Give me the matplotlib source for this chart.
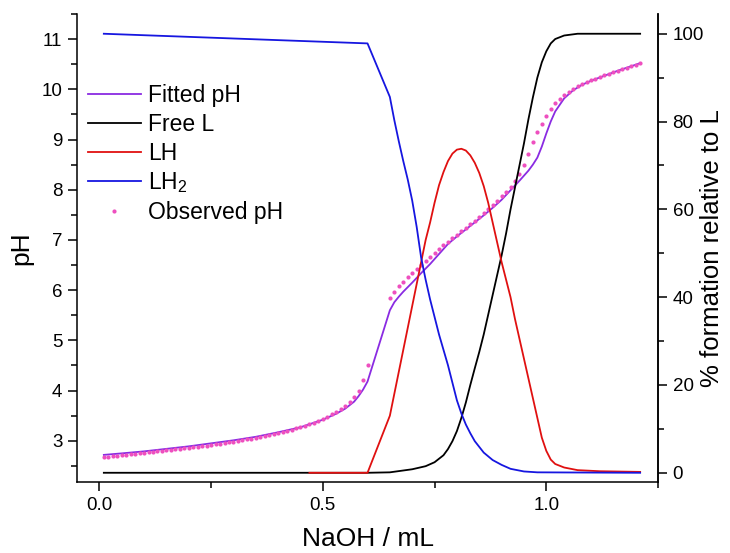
import matplotlib
matplotlib.use("Agg")
import matplotlib.pyplot as plt
from matplotlib.ticker import MultipleLocator
from matplotlib.lines import Line2D

plt.rcParams['font.family'] = ['Liberation Sans', 'DejaVu Sans']
plt.rcParams['mathtext.fontset'] = 'custom'
plt.rcParams['mathtext.rm'] = 'Liberation Sans'
plt.rcParams['mathtext.it'] = 'Liberation Sans:italic'

# ---- titration data (NaOH added, mL) ----
obs_vol = [0.01, 0.02, 0.03, 0.04, 0.05, 0.06, 0.07, 0.08, 0.09, 0.10,
           0.11, 0.12, 0.13, 0.14, 0.15, 0.16, 0.17, 0.18, 0.19, 0.20,
           0.21, 0.22, 0.23, 0.24, 0.25, 0.26, 0.27, 0.28, 0.29, 0.30,
           0.31, 0.32, 0.33, 0.34, 0.35, 0.36, 0.37, 0.38, 0.39, 0.40,
           0.41, 0.42, 0.43, 0.44, 0.45, 0.46, 0.47, 0.48, 0.49, 0.50,
           0.51, 0.52, 0.53, 0.54, 0.55, 0.56, 0.57, 0.58, 0.59, 0.60,
           0.65, 0.66, 0.67, 0.68, 0.69, 0.70, 0.71, 0.72, 0.73, 0.74,
           0.75, 0.76, 0.77, 0.78, 0.79, 0.80, 0.81, 0.82, 0.83, 0.84,
           0.85, 0.86, 0.87, 0.88, 0.89, 0.90, 0.91, 0.92, 0.93, 0.94,
           0.95, 0.96, 0.97, 0.98, 0.99, 1.00, 1.01, 1.02, 1.03, 1.04,
           1.05, 1.06, 1.07, 1.08, 1.09, 1.10, 1.11, 1.12, 1.13, 1.14,
           1.15, 1.16, 1.17, 1.18, 1.19, 1.20, 1.21]
obs_ph = [2.67, 2.68, 2.69, 2.70, 2.71, 2.72, 2.73, 2.74, 2.75, 2.76,
          2.77, 2.78, 2.79, 2.80, 2.81, 2.82, 2.83, 2.84, 2.85, 2.86,
          2.87, 2.88, 2.89, 2.90, 2.92, 2.93, 2.94, 2.95, 2.97, 2.98,
          3.00, 3.01, 3.03, 3.04, 3.06, 3.08, 3.10, 3.12, 3.14, 3.16,
          3.18, 3.20, 3.22, 3.25, 3.27, 3.30, 3.33, 3.36, 3.40, 3.44,
          3.48, 3.53, 3.58, 3.64, 3.70, 3.78, 3.87, 4.00, 4.21, 4.51,
          5.85, 5.97, 6.08, 6.17, 6.26, 6.34, 6.43, 6.51, 6.59, 6.66,
          6.74, 6.82, 6.89, 6.96, 7.03, 7.10, 7.17, 7.24, 7.31, 7.38,
          7.45, 7.53, 7.61, 7.69, 7.78, 7.87, 7.96, 8.06, 8.18, 8.32,
          8.50, 8.72, 8.95, 9.14, 9.30, 9.46, 9.60, 9.72, 9.81, 9.89,
          9.95, 10.01, 10.06, 10.10, 10.14, 10.18, 10.21, 10.25, 10.28, 10.31,
          10.34, 10.37, 10.40, 10.43, 10.46, 10.49, 10.52]

fit_vol = [0.01, 0.05, 0.10, 0.15, 0.20, 0.25, 0.30, 0.35, 0.40, 0.45,
           0.50, 0.53, 0.55, 0.57, 0.58, 0.59, 0.60, 0.65, 0.66, 0.67,
           0.68, 0.70, 0.72, 0.74, 0.76, 0.78, 0.80, 0.82, 0.84, 0.86,
           0.88, 0.90, 0.92, 0.94, 0.96, 0.97, 0.98, 0.99, 1.00, 1.01,
           1.02, 1.04, 1.06, 1.08, 1.10, 1.13, 1.16, 1.19, 1.21]
fit_ph = [2.72, 2.75, 2.79, 2.84, 2.89, 2.95, 3.01, 3.08, 3.17, 3.27,
          3.42, 3.54, 3.64, 3.78, 3.89, 4.02, 4.18, 5.60, 5.76, 5.87,
          5.97, 6.15, 6.34, 6.52, 6.72, 6.92, 7.07, 7.21, 7.35, 7.49,
          7.64, 7.80, 7.99, 8.18, 8.38, 8.50, 8.64, 8.86, 9.12, 9.36,
          9.56, 9.82, 9.98, 10.09, 10.17, 10.27, 10.37, 10.46, 10.52]

# ---- species distribution (% relative to total L) ----
l_vol = [0.01, 0.60, 0.65, 0.70, 0.73, 0.75, 0.77, 0.78, 0.79, 0.80,
         0.81, 0.82, 0.83, 0.84, 0.85, 0.86, 0.87, 0.88, 0.89, 0.90,
         0.91, 0.92, 0.93, 0.94, 0.95, 0.96, 0.97, 0.98, 0.99, 1.00,
         1.01, 1.02, 1.04, 1.07, 1.21]
l_pct = [0.0, 0.0, 0.1, 0.8, 1.5, 2.4, 4.0, 5.4, 7.2, 9.5,
         12.5, 16.0, 20.0, 23.8, 27.5, 31.5, 36.0, 40.5, 45.0, 49.5,
         54.5, 60.0, 65.0, 70.0, 75.0, 80.5, 85.5, 90.0, 93.5, 96.0,
         97.8, 98.8, 99.6, 100.0, 100.0]

lh_vol = [0.47, 0.60, 0.65, 0.66, 0.67, 0.68, 0.69, 0.70, 0.71, 0.72,
          0.73, 0.74, 0.75, 0.76, 0.77, 0.78, 0.79, 0.80, 0.81, 0.82,
          0.83, 0.84, 0.85, 0.86, 0.87, 0.88, 0.89, 0.90, 0.91, 0.92,
          0.93, 0.94, 0.95, 0.96, 0.97, 0.98, 0.99, 1.00, 1.01, 1.02,
          1.04, 1.07, 1.12, 1.21]
lh_pct = [0.0, 0.0, 13.0, 18.0, 23.0, 28.0, 33.0, 38.0, 43.0, 48.0,
          53.0, 57.0, 61.5, 65.5, 68.5, 71.0, 72.7, 73.6, 73.8, 73.4,
          72.3, 70.6, 68.3, 65.3, 61.5, 57.0, 52.5, 48.0, 44.0, 40.0,
          35.0, 30.5, 26.0, 21.5, 17.0, 12.5, 8.0, 5.0, 3.0, 2.0,
          1.2, 0.6, 0.35, 0.2]

lh2_vol = [0.01, 0.60, 0.65, 0.66, 0.67, 0.68, 0.69, 0.70, 0.71, 0.72,
           0.73, 0.74, 0.75, 0.76, 0.77, 0.78, 0.79, 0.80, 0.81, 0.82,
           0.83, 0.84, 0.86, 0.88, 0.90, 0.92, 0.95, 0.98, 1.21]
lh2_pct = [100.0, 97.8, 85.6, 80.3, 75.5, 71.0, 66.8, 62.0, 56.0, 49.0,
           44.0, 39.5, 35.5, 31.5, 28.0, 24.5, 20.5, 16.5, 13.5, 11.0,
           9.0, 7.2, 4.6, 2.9, 1.8, 0.9, 0.3, 0.1, 0.0]

C_FIT = '#8A2BE2'
C_OBS = '#EE4FBF'
C_L = '#000000'
C_LH = '#E01010'
C_LH2 = '#1616E0'
LW = 1.3
MS = 3.0

fig = plt.figure(figsize=(7.30, 5.53), dpi=100)
ax = fig.add_axes([0.1055, 0.1284, 0.7959, 0.8463])
ax2 = ax.twinx()

ax.plot(fit_vol, fit_ph, color=C_FIT, lw=LW)
ax.plot(obs_vol, obs_ph, linestyle='none', marker='o', ms=MS,
        mec='none', mfc=C_OBS)

ax2.plot(l_vol, l_pct, color=C_L, lw=LW)
ax2.plot(lh_vol, lh_pct, color=C_LH, lw=LW)
ax2.plot(lh2_vol, lh2_pct, color=C_LH2, lw=LW)

ax.set_xlim(-0.05, 1.25)
ax.set_ylim(2.18, 11.5)
ax2.set_ylim(-2.1, 104.5)

ax.xaxis.set_major_locator(MultipleLocator(0.5))
ax.xaxis.set_minor_locator(MultipleLocator(0.25))
ax.xaxis.set_major_formatter(plt.FuncFormatter(lambda v, p: f"{v:.1f}"))
ax.set_yticks(range(3, 12))
ax.yaxis.set_minor_locator(MultipleLocator(0.5))
ax2.set_yticks(range(0, 101, 20))
ax2.yaxis.set_minor_locator(MultipleLocator(10))

for a in (ax, ax2):
    a.spines['top'].set_visible(False)
    for s in a.spines.values():
        s.set_linewidth(1.1)
    a.tick_params(which='major', direction='out', length=6.5, width=1.1,
                  labelsize=13.5, pad=4)
    a.tick_params(which='minor', direction='out', length=4, width=1.1)
ax2.spines['left'].set_visible(False)
ax2.spines['bottom'].set_visible(False)

ax.set_xlabel('NaOH / mL', fontsize=19, labelpad=10)
ax.set_ylabel('pH', fontsize=19, labelpad=6)
ax2.set_ylabel('% formation relative to L', fontsize=18.5)
ax2.yaxis.set_label_coords(1.0725, 0.5)

handles = [
    Line2D([], [], color=C_FIT, lw=LW),
    Line2D([], [], color=C_L, lw=LW),
    Line2D([], [], color=C_LH, lw=LW),
    Line2D([], [], color=C_LH2, lw=LW),
    Line2D([], [], linestyle='none', marker='o', ms=MS, mec='none', mfc=C_OBS),
]
labels = ['Fitted pH', 'Free L', 'LH', 'LH$_2$', 'Observed pH']
ax2.legend(handles, labels, loc='upper left', bbox_to_anchor=(0.019, 0.85),
           frameon=False, fontsize=16.5, handlelength=2.3, handletextpad=0.3,
           labelspacing=0.25, borderpad=0, borderaxespad=0, numpoints=1)

fig.savefig('out.png', dpi=100)
